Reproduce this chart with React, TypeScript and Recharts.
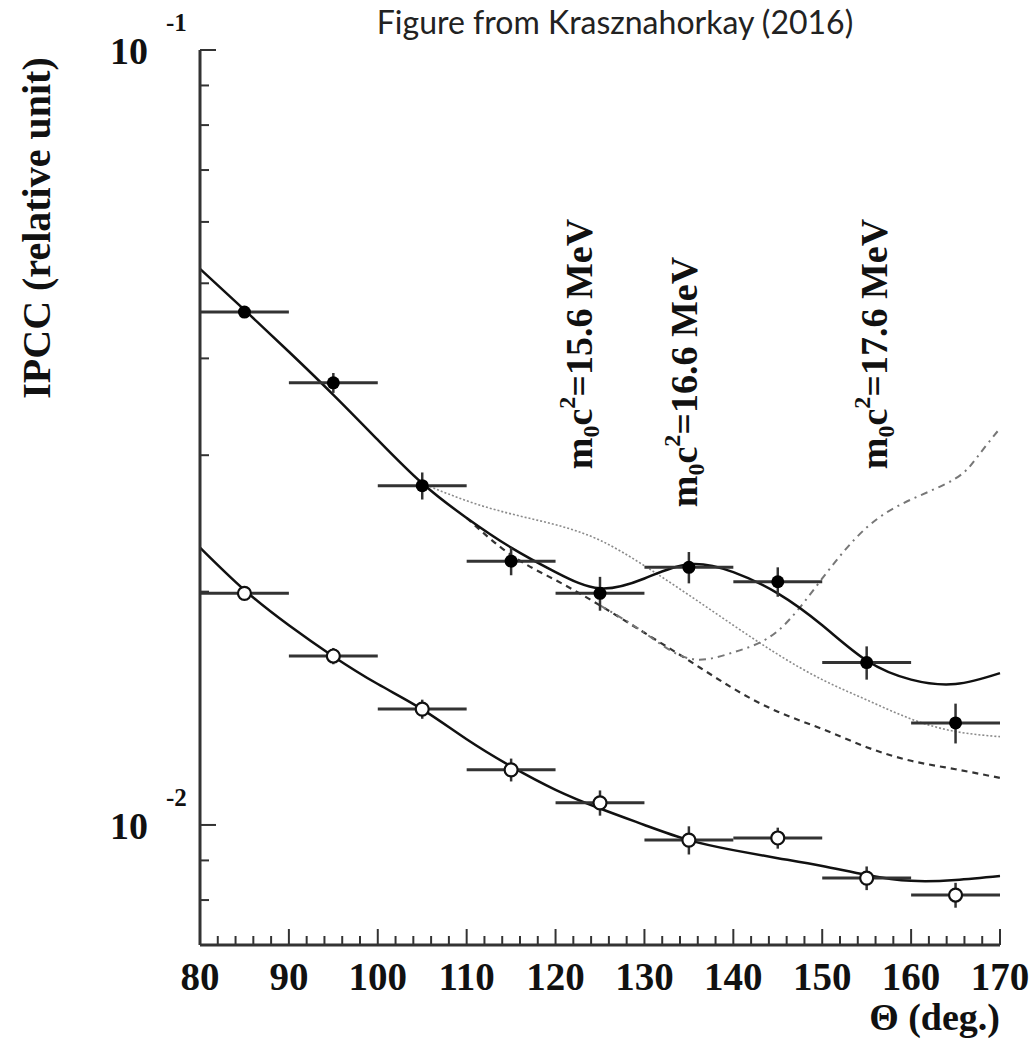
import React from "react";
import { ComposedChart, Line, Scatter, XAxis, YAxis, ErrorBar } from "recharts";

// measured points (IPCC vs opening angle)
const angles = [85, 95, 105, 115, 125, 135, 145, 155, 165];
const binHalfWidth = [5, 5, 5, 5, 5, 5, 5, 5, 5];
const signalPts = [0.0459, 0.0372, 0.0274, 0.0219, 0.0199, 0.0215, 0.0206, 0.0162, 0.01354];
const signalErr = [0.0008, 0.0011, 0.0011, 0.0009, 0.001, 0.001, 0.0009, 0.0008, 0.0008];
const refPts = [0.0199, 0.01652, 0.01411, 0.01178, 0.01068, 0.00956, 0.00962, 0.00854, 0.00812];
const refErr = [0.0003, 0.0004, 0.0004, 0.0004, 0.0004, 0.0004, 0.0003, 0.0003, 0.0003];

// simulated curves
const fitAngles = [80, 85, 90, 95, 100, 105, 110, 115, 120, 125, 130, 135, 140, 145, 150, 155, 160, 165, 170];
const fit166 = [0.0522, 0.0462, 0.0408, 0.0359, 0.0314, 0.0276, 0.0249, 0.0228, 0.0212, 0.0202, 0.0208, 0.0217, 0.0212, 0.0199, 0.0181, 0.0163, 0.0154, 0.0152, 0.0157];
const fitRef = [0.0228, 0.0201, 0.0181, 0.0165, 0.0152, 0.0141, 0.0129, 0.0119, 0.0111, 0.0105, 0.01, 0.00956, 0.00928, 0.00906, 0.00885, 0.00862, 0.00847, 0.00849, 0.00859];
const fit156Angles = [105, 110, 115, 120, 125, 130, 135, 140, 145, 150, 155, 160, 165, 170];
const fit156 = [0.0276, 0.0262, 0.0252, 0.0244, 0.0233, 0.0216, 0.0198, 0.0181, 0.0166, 0.0154, 0.0145, 0.0137, 0.0132, 0.013];
const bgAngles = [110, 115, 120, 125, 130, 135, 140, 145, 150, 155, 160, 165, 170];
const bgOnly = [0.0249, 0.0223, 0.0207, 0.0192, 0.0177, 0.0163, 0.015, 0.014, 0.0133, 0.0126, 0.0121, 0.0118, 0.0115];
const fit176Angles = [125, 130, 135, 140, 145, 150, 155, 160, 165, 167.5, 170];
const fit176 = [0.0192, 0.0177, 0.0164, 0.0167, 0.0178, 0.0208, 0.0242, 0.0263, 0.028, 0.0299, 0.0325];

const xTicks = [80, 82, 84, 86, 88, 90, 92, 94, 96, 98, 100, 102, 104, 106, 108, 110, 112, 114, 116, 118, 120, 122, 124, 126, 128, 130, 132, 134, 136, 138, 140, 142, 144, 146, 148, 150, 152, 154, 156, 158, 160, 162, 164, 166, 168, 170];
const xLabels = [80, 90, 100, 110, 120, 130, 140, 150, 160, 170];
const yTicks = [0.008, 0.009, 0.01, 0.02, 0.03, 0.04, 0.05, 0.06, 0.07, 0.08, 0.09, 0.1];
const yMajor = [0.01, 0.1];
const yExponents = ["-2", "-1"];

const massLabels = ["15.6", "16.6", "17.6"];

const serif = "Liberation Serif";
const serifStyle = { fontFamily: serif, fontWeight: 700 };

const zip = (xs: number[], ys: number[]) => xs.map((x, i) => ({ x, y: ys[i] }));

const signalData = angles.map((x, i) => ({ x, y: signalPts[i], ex: binHalfWidth[i], ey: signalErr[i] }));
const refData = angles.map((x, i) => ({ x, y: refPts[i], ex: binHalfWidth[i], ey: refErr[i] }));

const XTick = (props: any) => {
  const { x, y, payload } = props;
  const major = xLabels.includes(payload.value);
  return (
    <g>
      <line x1={x} y1={y} x2={x} y2={y - (major ? 16 : 9)} stroke="#333" strokeWidth={2} />
      {major && (
        <text x={x} y={y + 45} textAnchor="middle" style={{ ...serifStyle, fontSize: 39 }} fill="#111">
          {payload.value}
        </text>
      )}
    </g>
  );
};

const YTick = (props: any) => {
  const { x, y, payload } = props;
  const idx = yMajor.indexOf(payload.value);
  const major = idx >= 0;
  return (
    <g>
      <line x1={x} y1={y} x2={x + (major ? 16 : 9)} y2={y} stroke="#333" strokeWidth={2} />
      {major && (
        <g fill="#111">
          <text x={x - 52} y={y + 14} textAnchor="end" style={{ ...serifStyle, fontSize: 38 }}>10</text>
          <text x={x - 34} y={y - 19} style={{ ...serifStyle, fontSize: 25 }}>{yExponents[idx]}</text>
        </g>
      )}
    </g>
  );
};

const MassLabel = ({ x, y, mass }: { x: number; y: number; mass: string }) => (
  <text x={x} y={y} transform={`rotate(-90, ${x}, ${y})`} textAnchor="middle" style={{ ...serifStyle, fontSize: 38 }} fill="#111">
    <tspan>m</tspan>
    <tspan dy={7} style={{ fontSize: 24 }}>0</tspan>
    <tspan dy={-7}>c</tspan>
    <tspan dy={-17} style={{ fontSize: 24 }}>2</tspan>
    <tspan dy={17}>={mass} MeV</tspan>
  </text>
);

const Dot = ({ cx, cy }: any) => <circle cx={cx} cy={cy} r={6.5} fill="#000" />;
const OpenDot = ({ cx, cy }: any) => <circle cx={cx} cy={cy} r={6.5} fill="#fff" stroke="#111" strokeWidth={2.2} />;

export default function App() {
  return (
    <div style={{ position: "absolute", left: 0, top: 0, width: 1036, height: 1039, background: "#fff" }}>
      <ComposedChart width={1036} height={1039} margin={{ top: 50, right: 36, bottom: 34, left: 100 }}>
        <XAxis
          dataKey="x"
          type="number"
          domain={[80, 170]}
          ticks={xTicks}
          interval={0}
          tickSize={0}
          tickMargin={0}
          tick={<XTick />}
          tickLine={false}
          height={60}
          axisLine={{ stroke: "#333", strokeWidth: 3 }}
        />
        <XAxis xAxisId="top" orientation="top" type="number" domain={[80, 170]} tick={false} tickLine={false} height={0} axisLine={{ stroke: "#333", strokeWidth: 3 }} />
        <YAxis
          type="number"
          scale="log"
          domain={[0.007, 0.1]}
          allowDataOverflow
          ticks={yTicks}
          interval={0}
          tickSize={0}
          tickMargin={0}
          tick={<YTick />}
          tickLine={false}
          width={100}
          axisLine={{ stroke: "#333", strokeWidth: 3 }}
        />
        <YAxis yAxisId="right" orientation="right" type="number" domain={[0, 1]} tick={false} tickLine={false} width={0} axisLine={{ stroke: "#333", strokeWidth: 3 }} />

        <Line data={zip(fit156Angles, fit156)} dataKey="y" type="natural" stroke="#8a8a8a" strokeWidth={1.6} strokeDasharray="2 2" dot={false} isAnimationActive={false} />
        <Line data={zip(bgAngles, bgOnly)} dataKey="y" type="natural" stroke="#333" strokeWidth={2.2} strokeDasharray="6 5" dot={false} isAnimationActive={false} />
        <Line data={zip(fit176Angles, fit176)} dataKey="y" type="natural" stroke="#777" strokeWidth={2} strokeDasharray="7 5 2 5" dot={false} isAnimationActive={false} />
        <Line data={zip(fitAngles, fit166)} dataKey="y" type="natural" stroke="#111" strokeWidth={2.5} dot={false} isAnimationActive={false} />
        <Line data={zip(fitAngles, fitRef)} dataKey="y" type="natural" stroke="#111" strokeWidth={2.5} dot={false} isAnimationActive={false} />

        <Scatter data={signalData} dataKey="y" shape={<Dot />} isAnimationActive={false}>
          <ErrorBar dataKey="ex" direction="x" width={0} stroke="#333" strokeWidth={3} />
          <ErrorBar dataKey="ey" direction="y" width={0} stroke="#333" strokeWidth={2.5} />
        </Scatter>
        <Scatter data={refData} dataKey="y" shape={<OpenDot />} isAnimationActive={false}>
          <ErrorBar dataKey="ex" direction="x" width={0} stroke="#333" strokeWidth={3} />
          <ErrorBar dataKey="ey" direction="y" width={0} stroke="#333" strokeWidth={2.5} />
        </Scatter>
      </ComposedChart>

      <svg width={1036} height={1039} style={{ position: "absolute", left: 0, top: 0, pointerEvents: "none" }}>
        <text x={615} y={34} textAnchor="middle" style={{ fontFamily: "Lato", fontSize: 32 }} fill="#222">
          Figure from Krasznahorkay (2016)
        </text>
        <text x={50} y={228} transform="rotate(-90, 50, 228)" textAnchor="middle" style={{ ...serifStyle, fontSize: 40 }} fill="#111">
          IPCC (relative unit)
        </text>
        <text x={1000} y={1030} textAnchor="end" style={{ ...serifStyle, fontSize: 38 }} fill="#111">
          Θ (deg.)
        </text>
        <MassLabel x={592} y={344} mass={massLabels[0]} />
        <MassLabel x={697} y={382} mass={massLabels[1]} />
        <MassLabel x={887} y={344} mass={massLabels[2]} />
      </svg>
    </div>
  );
}
